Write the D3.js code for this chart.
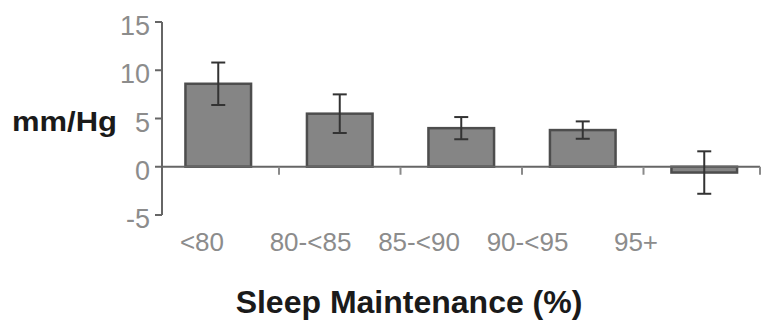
<!DOCTYPE html>
<html>
<head>
<meta charset="utf-8">
<script src="https://cdn.jsdelivr.net/npm/d3@7"></script>
<style>
  body { margin: 0; background: #fff; }
  svg { display: block; font-family: "Liberation Sans", Arial, sans-serif; }
</style>
</head>
<body>
<div id="chart"></div>
<script>
// data
const categories = ['<80', '80-<85', '85-<90', '90-<95', '95+'];
const means = [8.6, 5.5, 4.0, 3.8, -0.6];
const errors = [2.2, 2.0, 1.15, 0.9, 2.2];
const yTicks = [-5, 0, 5, 10, 15];

const width = 763, height = 325;

const svg = d3.select('#chart').append('svg')
  .attr('width', width)
  .attr('height', height);

// scales
const y = d3.scaleLinear().domain([-5, 15]).range([215, 22]);
const x = d3.scaleBand().domain(categories).range([157.5, 765])
  .paddingInner(0.46).paddingOuter(0.23);
// category labels sit on a tighter spacing than the bars
const xLabel = d3.scalePoint().domain(categories).range([202, 636]);

const axisX = 162, axisEnd = 760;
const axisColor = '#666';

// y axis line + ticks
svg.append('line')
  .attr('x1', axisX).attr('x2', axisX)
  .attr('y1', y(15)).attr('y2', y(-5))
  .attr('stroke', axisColor).attr('stroke-width', 2);

svg.selectAll('.ytick')
  .data(yTicks)
  .join('line')
  .attr('class', 'ytick')
  .attr('x1', axisX - 7).attr('x2', axisX)
  .attr('y1', d => y(d)).attr('y2', d => y(d))
  .attr('stroke', axisColor).attr('stroke-width', 2);

svg.selectAll('.ylabel')
  .data(yTicks)
  .join('text')
  .attr('class', 'ylabel')
  .attr('x', 150)
  .attr('y', d => y(d) + 13)
  .attr('text-anchor', 'end')
  .attr('font-size', 27)
  .attr('fill', '#8c8c8c')
  .text(d => d);

// bars
svg.selectAll('.bar')
  .data(categories)
  .join('rect')
  .attr('class', 'bar')
  .attr('x', d => x(d))
  .attr('width', x.bandwidth())
  .attr('y', (d, i) => y(Math.max(0, means[i])))
  .attr('height', (d, i) => Math.abs(y(means[i]) - y(0)))
  .attr('fill', '#858585')
  .attr('stroke', '#4d4d4d')
  .attr('stroke-width', 2.5);

// x axis line at zero
svg.append('line')
  .attr('x1', axisX).attr('x2', axisEnd)
  .attr('y1', y(0)).attr('y2', y(0))
  .attr('stroke', axisColor).attr('stroke-width', 2);

// boundary ticks hanging under the zero line
const boundaries = categories.slice(1).map(c => x(c) - x.step() * x.paddingInner() / 2);
boundaries.push(axisEnd);
svg.selectAll('.xtick')
  .data(boundaries)
  .join('line')
  .attr('class', 'xtick')
  .attr('x1', d => d).attr('x2', d => d)
  .attr('y1', y(0)).attr('y2', y(0) + 8)
  .attr('stroke', '#8a8a8a').attr('stroke-width', 2);

// error bars
const eb = svg.selectAll('.err')
  .data(categories)
  .join('g')
  .attr('class', 'err')
  .attr('transform', d => `translate(${x(d) + x.bandwidth() / 2},0)`);

eb.append('line')
  .attr('y1', (d, i) => y(means[i] + errors[i]))
  .attr('y2', (d, i) => y(means[i] - errors[i]))
  .attr('stroke', '#333').attr('stroke-width', 2);

eb.append('line')
  .attr('x1', -7).attr('x2', 7)
  .attr('y1', (d, i) => y(means[i] + errors[i]))
  .attr('y2', (d, i) => y(means[i] + errors[i]))
  .attr('stroke', '#333').attr('stroke-width', 2);

eb.append('line')
  .attr('x1', -7).attr('x2', 7)
  .attr('y1', (d, i) => y(means[i] - errors[i]))
  .attr('y2', (d, i) => y(means[i] - errors[i]))
  .attr('stroke', '#333').attr('stroke-width', 2);

// category labels
svg.selectAll('.xlabel')
  .data(categories)
  .join('text')
  .attr('class', 'xlabel')
  .attr('x', d => xLabel(d))
  .attr('y', 251)
  .attr('text-anchor', 'middle')
  .attr('font-size', 26)
  .attr('fill', '#8c8c8c')
  .text(d => d);

// y axis title
svg.append('text')
  .attr('x', 12)
  .attr('y', 131)
  .attr('font-size', 28)
  .attr('font-weight', 'bold')
  .attr('fill', '#1a1a1a')
  .attr('textLength', 105)
  .attr('lengthAdjust', 'spacingAndGlyphs')
  .text('mm/Hg');

// x axis title
svg.append('text')
  .attr('x', 409)
  .attr('y', 313)
  .attr('text-anchor', 'middle')
  .attr('font-size', 32)
  .attr('font-weight', 'bold')
  .attr('fill', '#1a1a1a')
  .text('Sleep Maintenance (%)');
</script>
</body>
</html>
